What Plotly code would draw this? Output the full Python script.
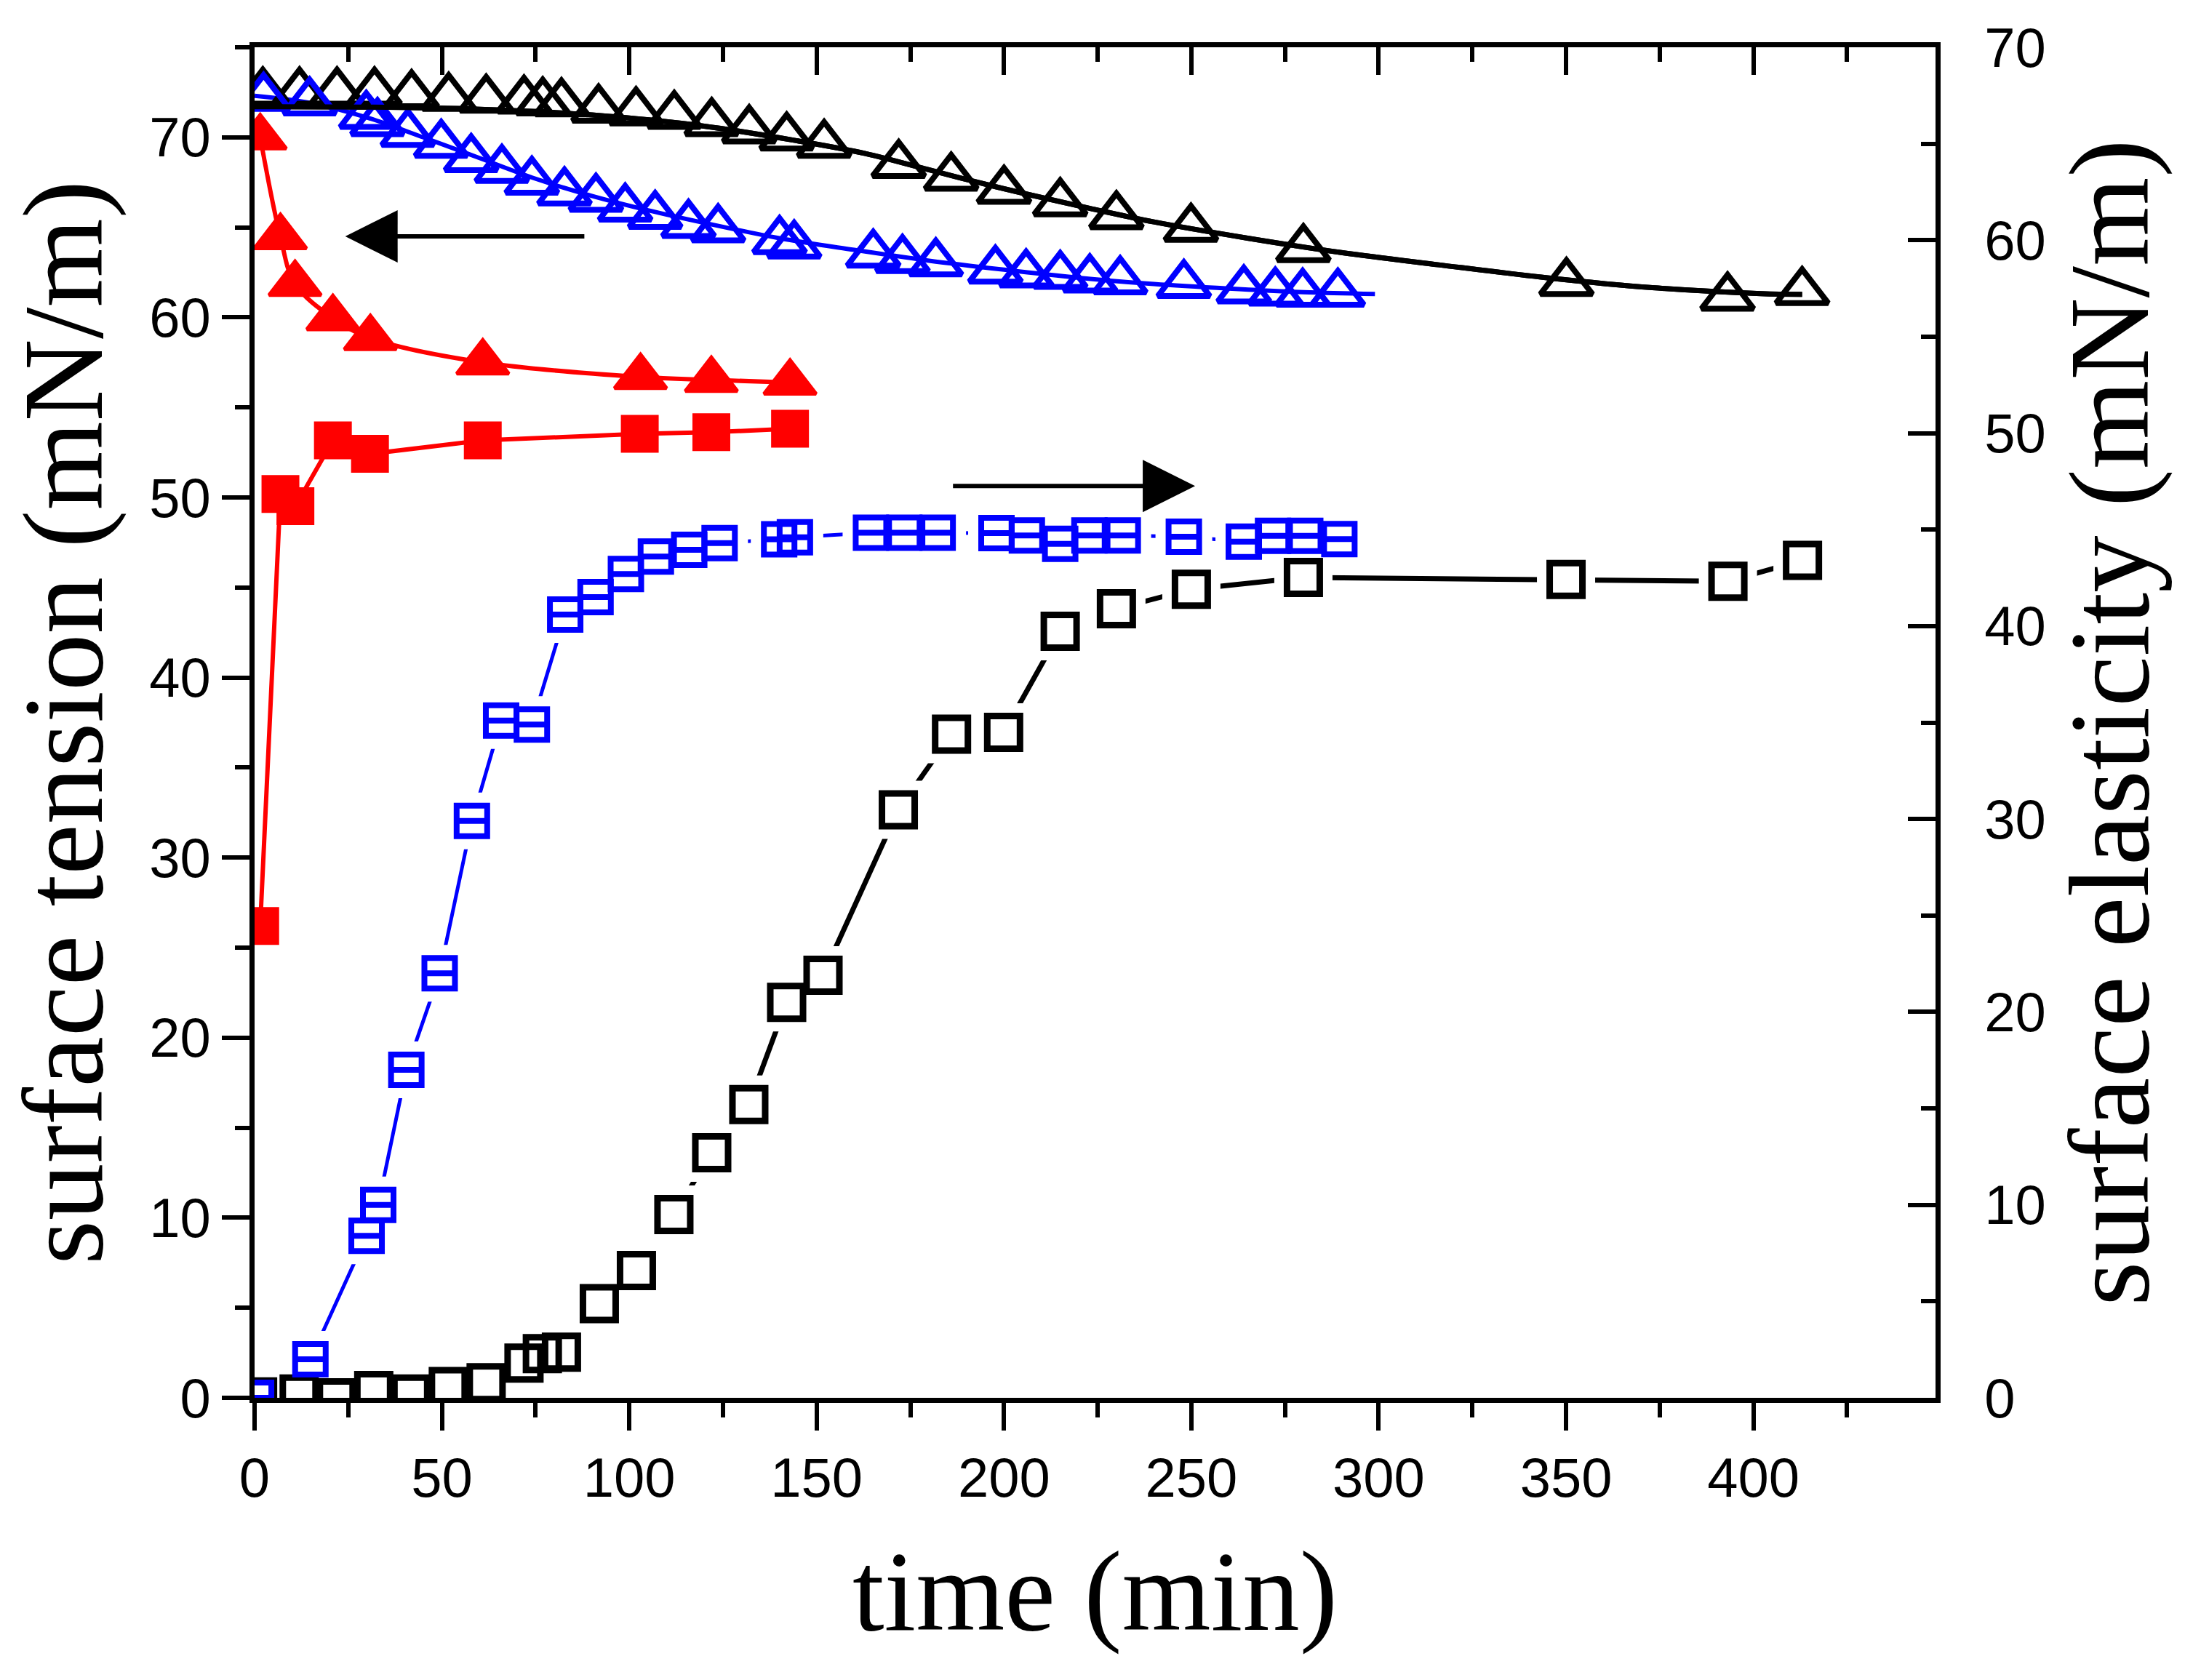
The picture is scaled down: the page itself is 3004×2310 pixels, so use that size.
import plotly.graph_objects as go

# ---------------- data ----------------
# black series: surface tension (triangles, left axis) and elasticity (squares, right axis)
t_black_tri = [2.2, 12.0, 22.0, 32.0, 41.9, 51.8, 61.8, 71.9, 76.9, 81.9, 91.8, 101.8, 112.0, 122.0,
               132.0, 142.0, 152.0, 171.9, 185.9, 200.0, 215.0, 230.0, 249.9, 279.9, 350.1, 393.1, 413.0]
st_black = [72.5, 72.5, 72.5, 72.5, 72.35, 72.2, 72.1, 72.05, 71.95, 71.9, 71.55, 71.4, 71.2, 70.8,
            70.4, 70.0, 69.6, 68.48, 67.77, 67.04, 66.35, 65.63, 64.93, 63.8, 61.92, 61.11, 61.42]

t_black_sq = [0.8, 11.9, 21.8, 31.8, 41.7, 51.7, 61.8, 71.9, 76.8, 81.9, 92.0, 101.9, 111.9, 122.0,
              131.9, 142.0, 151.7, 171.8, 186.0, 199.9, 215.0, 230.0, 250.0, 279.9, 350.0, 393.2, 413.1]
se_black = [0.05, 0.2, 0.0, 0.38, 0.2, 0.58, 0.78, 1.8, 2.29, 2.37, 4.88, 6.6, 9.5, 12.7,
            15.2, 20.5, 21.9, 30.48, 34.4, 34.49, 39.73, 40.9, 41.91, 42.52, 42.42, 42.32, 43.41]

# black fitted curve (surface tension)
t_black_fit = [0, 30, 60, 90, 120, 145, 163, 179, 193, 207, 223, 240, 265, 290, 316, 345, 373, 402, 413]
st_black_fit = [71.7, 71.68, 71.56, 71.24, 70.62, 69.8, 69.1, 68.25, 67.5, 66.8, 66.05, 65.3, 64.4,
                63.6, 62.92, 62.2, 61.65, 61.32, 61.28]

# blue series
t_blue_tri = [2.4, 14.7, 29.8, 32.8, 40.9, 49.8, 57.8, 66.0, 74.0, 82.7, 91.1, 98.9, 106.9, 115.8,
              123.7, 140.1, 144.0, 165.1, 172.9, 181.8, 197.7, 205.9, 215.0, 222.9, 231.0, 248.0,
              264.0, 272.4, 279.7, 289.1]
st_blue = [72.2, 71.95, 71.2, 70.8, 70.2, 69.6, 68.8, 68.2, 67.55, 66.95, 66.6, 66.05, 65.65, 65.15,
           64.9, 64.25, 64.0, 63.5, 63.2, 63.01, 62.61, 62.4, 62.32, 62.12, 62.02, 61.81,
           61.51, 61.39, 61.33, 61.33]

t_blue_sq = [0.4, 14.9, 29.9, 33.0, 40.5, 49.4, 58.0, 65.8, 74.0, 82.9, 91.0, 99.1, 107.1, 116.0,
             124.1, 140.0, 144.2, 164.5, 173.4, 182.3, 198.0, 206.1, 215.0, 222.8, 231.7, 248.0,
             264.0, 271.8, 280.4, 289.5]
se_blue = [0.0, 2.0, 8.4, 10.0, 17.0, 22.0, 29.9, 35.1, 34.9, 40.6, 41.5, 42.7, 43.6, 43.95,
           44.3, 44.5, 44.6, 44.84, 44.84, 44.84, 44.82, 44.7, 44.26, 44.7, 44.7, 44.63,
           44.38, 44.68, 44.68, 44.51]

# blue fitted curve (surface tension)
t_blue_fit = [0, 15, 30, 45, 60, 75, 90, 105, 120, 140, 160, 180, 200, 220, 240, 260, 280, 299]
st_blue_fit = [72.3, 71.9, 71.1, 70.0, 68.85, 67.7, 66.75, 65.95, 65.25, 64.4, 63.75, 63.15, 62.65,
               62.2, 61.85, 61.6, 61.4, 61.3]

# red series
t_red = [1.5, 6.9, 10.8, 20.9, 30.9, 60.9, 103.0, 121.9, 142.9]
st_red = [70.0, 64.46, 61.86, 59.96, 58.85, 57.5, 56.69, 56.53, 56.38]
t_red_sq = [1.5, 6.9, 10.9, 20.9, 30.8, 60.9, 102.8, 121.9, 142.9]
se_red = [26.2, 50.19, 49.52, 53.17, 52.42, 53.17, 53.53, 53.62, 53.82]

# axes
x_range = [0, 448.6]
y_left_range = [0, 75]
y_right_range = [0, 70]
x_ticks = [0, 50, 100, 150, 200, 250, 300, 350, 400]

# arrows (tail -> head)
arrow_left = dict(tail=(88.3, 64.5), head=(24.2, 64.5))
arrow_right = dict(tail=(186.1, 47.26), head=(251.0, 47.26))

BLACK = "#000000"
BLUE = "#0000FF"
RED = "#FF0000"
SANS = "Liberation Sans, Arial, sans-serif"
SERIF = "Liberation Serif, Times New Roman, serif"

fig = go.Figure()

# ---- left-axis (surface tension) curves ----
fig.add_trace(go.Scatter(x=t_black_fit, y=st_black_fit, mode="lines", line=dict(color=BLACK, width=7, shape="spline"),
                         xaxis="x", yaxis="y", hoverinfo="skip"))
fig.add_trace(go.Scatter(x=t_blue_fit, y=st_blue_fit, mode="lines", line=dict(color=BLUE, width=6, shape="spline"),
                         xaxis="x", yaxis="y", hoverinfo="skip"))
fig.add_trace(go.Scatter(x=t_red, y=st_red, mode="lines", line=dict(color=RED, width=6, shape="spline"),
                         xaxis="x", yaxis="y"))
fig.add_trace(go.Scatter(x=t_red_sq, y=se_red, mode="lines", line=dict(color=RED, width=6),
                         xaxis="x", yaxis="y"))

TRI = 62
fig.add_trace(go.Scatter(x=t_black_tri, y=st_black, mode="markers",
                         marker=dict(symbol="triangle-up-open", size=TRI, color=BLACK, line=dict(width=8, color=BLACK)),
                         xaxis="x", yaxis="y"))
fig.add_trace(go.Scatter(x=t_blue_tri, y=st_blue, mode="markers",
                         marker=dict(symbol="triangle-up-open", size=TRI, color=BLUE, line=dict(width=8, color=BLUE)),
                         xaxis="x", yaxis="y"))
fig.add_trace(go.Scatter(x=t_red, y=st_red, mode="markers",
                         marker=dict(symbol="triangle-up", size=TRI, color=RED, line=dict(width=5, color=RED)),
                         xaxis="x", yaxis="y"))
fig.add_trace(go.Scatter(x=t_red_sq, y=se_red, mode="markers",
                         marker=dict(symbol="square", size=46, color=RED, line=dict(width=6, color=RED)),
                         xaxis="x", yaxis="y"))

# ---- right-axis (surface elasticity) ----
fig.add_trace(go.Scatter(x=t_black_sq, y=se_black, mode="lines", line=dict(color=BLACK, width=7),
                         xaxis="x", yaxis="y2"))
fig.add_trace(go.Scatter(x=t_blue_sq, y=se_blue, mode="lines", line=dict(color=BLUE, width=5),
                         xaxis="x", yaxis="y2"))
# white halos give the gaps between connecting lines and symbols
fig.add_trace(go.Scatter(x=t_black_sq, y=se_black, mode="markers",
                         marker=dict(symbol="square", size=80, color="white", line=dict(width=0)),
                         xaxis="x", yaxis="y2", hoverinfo="skip"))
fig.add_trace(go.Scatter(x=t_blue_sq, y=se_blue, mode="markers",
                         marker=dict(symbol="square", size=78, color="white", line=dict(width=0)),
                         xaxis="x", yaxis="y2", hoverinfo="skip"))
fig.add_trace(go.Scatter(x=t_black_sq, y=se_black, mode="markers",
                         marker=dict(symbol="square-open", size=45, color=BLACK, line=dict(width=9, color=BLACK)),
                         xaxis="x", yaxis="y2"))
fig.add_trace(go.Scatter(x=t_blue_sq, y=se_blue, mode="markers",
                         marker=dict(symbol="square-open", size=42, color=BLUE, line=dict(width=8, color=BLUE)),
                         xaxis="x", yaxis="y2"))
fig.add_trace(go.Scatter(x=t_blue_sq, y=se_blue, mode="markers",
                         marker=dict(symbol="line-ew", size=42 / 1.4, color=BLUE, line=dict(width=8, color=BLUE)),
                         xaxis="x", yaxis="y2"))

# top axis (ticks pointing inward) shares the x range; the black fit is redrawn on it so it is rendered
fig.add_trace(go.Scatter(x=t_black_fit, y=st_black_fit, mode="lines", line=dict(color=BLACK, width=7, shape="spline"),
                         xaxis="x2", yaxis="y", hoverinfo="skip"))

tickfont = dict(family=SANS, size=76, color=BLACK)
titlefont = dict(family=SERIF, size=157, color=BLACK)

common = dict(showgrid=False, zeroline=False, showline=True, linewidth=7, linecolor=BLACK,
              tickwidth=6, tickcolor=BLACK, ticklen=38)
minor_common = dict(ticklen=20, tickwidth=6, tickcolor=BLACK)

fig.update_layout(
    width=3004, height=2310,
    margin=dict(l=350, r=343, t=65, b=388, pad=0),
    paper_bgcolor="white", plot_bgcolor="white",
    showlegend=False,
    xaxis=dict(range=x_range, tickvals=x_ticks, ticks="outside", tickfont=tickfont,
               minor=dict(dtick=25, tick0=0, ticks="outside", **minor_common),
               title=dict(text="time (min)", font=titlefont, standoff=60), **common),
    xaxis2=dict(range=x_range, overlaying="x", side="top", anchor="y", tickvals=x_ticks, ticks="inside",
                showticklabels=False,
                minor=dict(dtick=25, tick0=0, ticks="inside", **minor_common),
                **common),
    yaxis=dict(range=y_left_range, dtick=10, tick0=0, ticks="outside", tickfont=tickfont,
               minor=dict(dtick=5, tick0=0, ticks="outside", **minor_common),
               title=dict(text="surface tension (mN/m)", font=titlefont, standoff=40), **common),
    yaxis2=dict(range=y_right_range, dtick=10, tick0=0, overlaying="y", side="right", anchor="x",
                ticks="inside", tickfont=tickfont, ticklabelstandoff=45,
                minor=dict(dtick=5, tick0=0, ticks="inside", **minor_common),
                title=dict(text="surface elasticity (mN/m)", font=titlefont, standoff=30), **common),
)

# solid, narrow arrowheads (plotly arrowhead 2), tip placed on the head point
for arr, yref in ((arrow_left, "y"), (arrow_right, "y2")):
    fig.add_annotation(x=arr["head"][0], y=arr["head"][1], xref="x", yref=yref,
                       ax=arr["tail"][0], ay=arr["tail"][1], axref="x", ayref=yref,
                       text="", showarrow=True, arrowhead=2, arrowwidth=6, arrowsize=2.4,
                       arrowcolor=BLACK, standoff=0)

fig.write_html("out.html")
